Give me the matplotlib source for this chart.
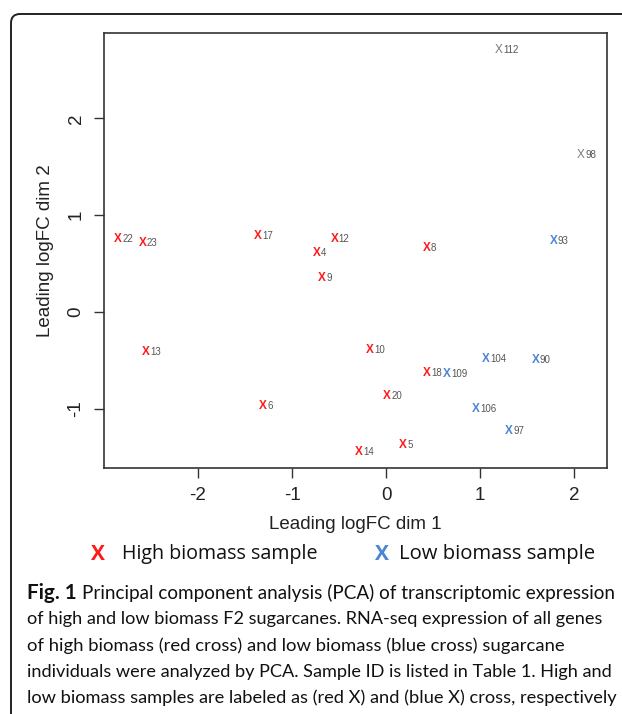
import matplotlib
matplotlib.use('Agg')
import matplotlib.pyplot as plt
from matplotlib.patches import FancyBboxPatch

plt.rcParams['font.family'] = ['Liberation Sans', 'DejaVu Sans']
plt.rcParams['axes.unicode_minus'] = False

# данные PCA
sample_ids = ['22', '23', '17', '4', '12', '8', '9', '13', '10', '6', '20', '14', '5', '18',
              '109', '104', '90', '106', '97', '93', '112', '98']
dim1 = [-2.85, -2.59, -1.36, -0.74, -0.55, 0.43, -0.68, -2.56, -0.17, -1.31, 0.01, -0.29, 0.18, 0.43,
        0.65, 1.06, 1.59, 0.96, 1.31, 1.78, 1.20, 2.07]
dim2 = [0.75, 0.71, 0.78, 0.61, 0.75, 0.66, 0.35, -0.41, -0.39, -0.97, -0.87, -1.45, -1.37, -0.63,
        -0.64, -0.49, -0.50, -1.00, -1.23, 0.73, 2.70, 1.62]
groups = ['high'] * 14 + ['low'] * 6 + ['other'] * 2

x_ticks = [-2, -1, 0, 1, 2]
y_ticks = [-1, 0, 1, 2]

legend_labels = ['High biomass sample', 'Low biomass sample']
caption_lines = [
    'Principal component analysis (PCA) of transcriptomic expression',
    'of high and low biomass F2 sugarcanes. RNA-seq expression of all genes',
    'of high biomass (red cross) and low biomass (blue cross) sugarcane',
    'individuals were analyzed by PCA. Sample ID is listed in Table 1. High and',
    'low biomass samples are labeled as (red X) and (blue X) cross, respectively',
]

colors = {'high': '#ff1a1a', 'low': '#4a86d4', 'other': '#7a7a7a'}

W, H = 622, 714
fig = plt.figure(figsize=(W / 100, H / 100), dpi=100)
renderer = fig.canvas.get_renderer()


def fit_width(txt, target_px):
    # подгоняем размер шрифта под ширину строки в пикселях
    for _ in range(3):
        w = txt.get_window_extent(renderer).width
        txt.set_fontsize(txt.get_fontsize() * target_px / w)


# фон-рамка в пиксельных координатах
bg = fig.add_axes([0, 0, 1, 1], zorder=-1)
bg.set_xlim(0, W)
bg.set_ylim(H, 0)
bg.axis('off')
frame = FancyBboxPatch((11, 14), 700, 800, boxstyle='round,pad=0,rounding_size=9',
                       fc='white', ec='#222222', lw=1.4)
bg.add_patch(frame)

ax = fig.add_axes([104 / W, 1 - 468 / H, (607 - 104) / W, (468 - 33) / H])
ax.set_xlim(-3.0, 2.35)
ax.set_ylim(-1.61, 2.88)
ax.set_xticks(x_ticks)
ax.set_yticks(y_ticks)
ax.tick_params(direction='out', length=7, width=1.0, color='#333333', labelsize=13.5,
               labelcolor='#222222', pad=7)
for lab in ax.get_yticklabels():
    lab.set_rotation(90)
    lab.set_va('center')
for sp in ax.spines.values():
    sp.set_color('#333333')
    sp.set_linewidth(1.2)
ax.set_xlabel('Leading logFC dim 1', fontsize=13.5, color='#222222', labelpad=8)
ax.set_ylabel('Leading logFC dim 2', fontsize=13.5, color='#222222', labelpad=10)

for sid, x, y, g in zip(sample_ids, dim1, dim2, groups):
    c = colors[g]
    ax.text(x, y, 'X', color=c, fontsize=8.5, fontweight='bold' if g != 'other' else 'normal',
            ha='center', va='center')
    ax.annotate(sid, (x, y), xytext=(3.2, 0), textcoords='offset points', fontsize=7,
                color='#555555', ha='left', va='center')

# легенда
leg_font = ['Open Sans', 'DejaVu Sans']
leg_y = 1 - 554 / H
fig.text(98 / W, leg_y, 'X', color=colors['high'], fontsize=15, ha='center', va='center',
         family=leg_font, fontweight='bold')
t1 = fig.text(122 / W, leg_y, legend_labels[0], fontsize=15, ha='left', va='center',
              family=leg_font, color='#111111')
fig.text(382 / W, leg_y, 'X', color=colors['low'], fontsize=15, ha='center', va='center',
         family=leg_font, fontweight='bold')
t2 = fig.text(399 / W, leg_y, legend_labels[1], fontsize=15, ha='left', va='center',
              family=leg_font, color='#111111')
fit_width(t1, 318 - 122)
fit_width(t2, 595 - 399)

# подпись
cap_font = ['Lato', 'DejaVu Sans']
line_y = [593, 619, 646, 672, 698]
line_end = [615, 605, 564, 610, 615]
fig_lbl = fig.text(27 / W, 1 - line_y[0] / H, 'Fig. 1', fontsize=14, fontweight='bold',
                   ha='left', va='center', family=cap_font, color='#111111')
fit_width(fig_lbl, 77 - 27)
first = bg.annotate(caption_lines[0], xy=(1, 0.5), xycoords=fig_lbl, xytext=(4, 0),
                    textcoords='offset points', fontsize=14, ha='left', va='center',
                    family=cap_font, color='#111111')
lbl_right = fig_lbl.get_window_extent(renderer).x1
fit_width(first, line_end[0] - lbl_right - 5)
for ln, yy, xe in zip(caption_lines[1:], line_y[1:], line_end[1:]):
    t = fig.text(27 / W, 1 - yy / H, ln, fontsize=14, ha='left', va='center',
                 family=cap_font, color='#111111')
    fit_width(t, xe - 27)

fig.savefig('out.png', dpi=100)
